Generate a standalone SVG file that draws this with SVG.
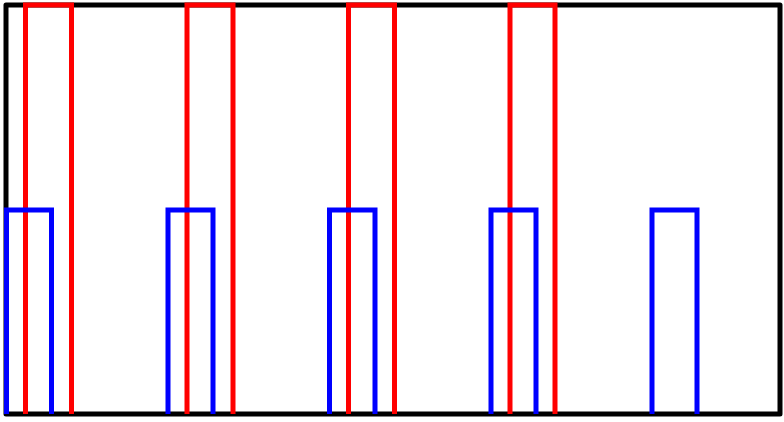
<svg xmlns="http://www.w3.org/2000/svg" width="784" height="422" viewBox="0 0 784 422">
<style>
.frame{fill:none;stroke:#000;stroke-width:5;stroke-linejoin:round}
.red{fill:none;stroke:#f00;stroke-width:5}
.blue{fill:none;stroke:#00f;stroke-width:5}
</style>
<rect width="784" height="422" fill="#fff"/>
<g id="frame"><rect class="frame" x="6" y="5" width="774" height="409"/></g>
<g id="connectors">
<g id="red">
<polyline class="red" points="25.5,414 25.5,5 71.5,5 71.5,414"/>
<polyline class="red" points="187,414 187,5 233,5 233,414"/>
<polyline class="red" points="348.5,414 348.5,5 394.5,5 394.5,414"/>
<polyline class="red" points="510,414 510,5 555,5 555,414"/>
</g>
<g id="blue">
<polyline class="blue" points="6.5,414 6.5,210 51.5,210 51.5,414"/>
<polyline class="blue" points="168,414 168,210 213,210 213,414"/>
<polyline class="blue" points="329.5,414 329.5,210 375,210 375,414"/>
<polyline class="blue" points="491,414 491,210 536,210 536,414"/>
<polyline class="blue" points="652,414 652,210 697,210 697,414"/>
</g>
</g>
</svg>
